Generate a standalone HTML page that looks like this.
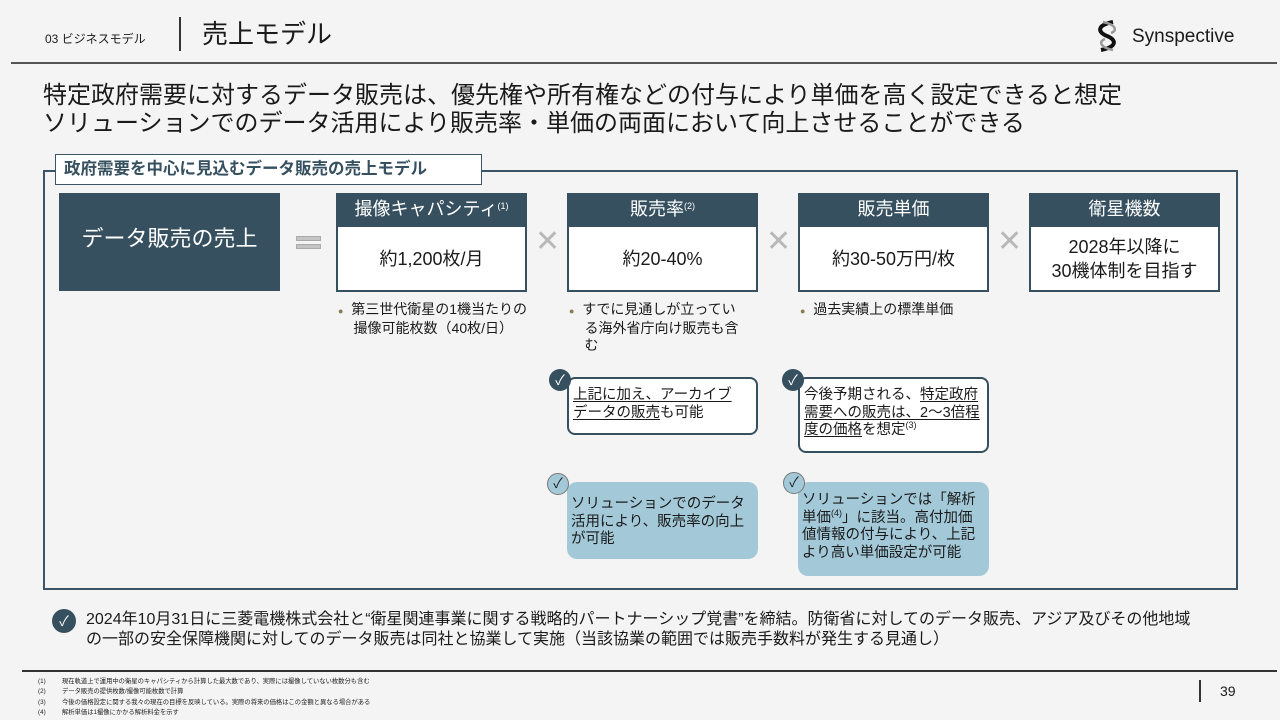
<!DOCTYPE html>
<html><head><meta charset="utf-8"><style>
*{margin:0;padding:0;box-sizing:border-box}
body{width:1280px;height:720px;background:#f4f4f4;position:relative;overflow:hidden;font-family:"Liberation Sans","Noto Sans CJK JP",sans-serif;color:#1a1a1a}
.a{position:absolute}
.hd{background:#36505f;color:#fff;text-align:center;font-size:18px;line-height:32px}
.bd{background:#fff;border:2px solid #36505f;border-top:none;text-align:center;font-size:18px;display:flex;align-items:center;justify-content:center;line-height:24px}
.x{font-size:30px;color:#b8b8b8;line-height:30px}
.bul{font-size:14px;line-height:17px}
.cw{background:#fff;border:2px solid #36505f;border-radius:8px;font-size:14.5px;line-height:17.5px;padding:8px 4px 0 4px;white-space:nowrap}
.cb{background:#a3c9d9;border-radius:10px;font-size:14.5px;line-height:17.5px;padding:14px 4px 0 4px;white-space:nowrap}
.ck{width:22px;height:22px;border-radius:50%;color:#fff;background:#36505f;font-size:14px;line-height:22px;text-align:center}
.ckl{background:#a3c9d9;border:1.5px solid #777;color:#222;line-height:19px}
u{text-decoration:underline;text-underline-offset:2px}
sup{font-size:9px;line-height:0;vertical-align:6px}
.fn{font-size:6.3px;line-height:10.3px;color:#222;white-space:nowrap}
</style></head><body>
<div class="a" style="left:45px;top:30px;font-size:12px">03 ビジネスモデル</div>
<div class="a" style="left:179px;top:17px;width:1.5px;height:34px;background:#333"></div>
<div class="a" style="left:202px;top:17px;font-size:26px;line-height:34px">売上モデル</div>
<svg class="a" style="left:1091px;top:19px" width="34" height="34" viewBox="0 0 34 34"><path d="M22 3 C6 6 6 13 16 17 C26 21 26 28 10 31" stroke="#111" stroke-width="4" fill="none"/><path d="M12 3 C26 6 26 12 20 14 M14 20 C8 22 8 28 22 31" stroke="#999" stroke-width="2.5" fill="none"/></svg>
<div class="a" style="left:1132px;top:24px;font-size:19px;line-height:26px">Synspective</div>
<div class="a" style="left:11px;top:62px;width:1266px;height:2px;background:#555"></div>
<div class="a" style="left:43px;top:82px;font-size:24px;line-height:28px">特定政府需要に対するデータ販売は、優先権や所有権などの付与により単価を高く設定できると想定<br>ソリューションでのデータ活用により販売率・単価の両面において向上させることができる</div>

<div class="a" style="left:43px;top:170px;width:1195px;height:420px;border:2px solid #3b5566"></div>
<div class="a" style="left:55px;top:154px;width:427px;height:31px;background:#fff;border:1.5px solid #3b5566;font-size:16.5px;font-weight:bold;color:#36505f;line-height:28px;padding-left:8px">政府需要を中心に見込むデータ販売の売上モデル</div>

<div class="a" style="left:59px;top:193px;width:221px;height:98px;background:#36505f;color:#fff;font-size:22px;text-align:center;line-height:92px">データ販売の売上</div>
<div class="a" style="left:296px;top:236px;width:25px;height:5px;background:#c4c4c4;border:1px solid #aaa"></div>
<div class="a" style="left:296px;top:244px;width:25px;height:5px;background:#c4c4c4;border:1px solid #aaa"></div>

<div class="a hd" style="left:336px;top:193px;width:191px;height:34px">撮像キャパシティ<sup>(1)</sup></div>
<div class="a bd" style="left:336px;top:227px;width:191px;height:65px">約1,200枚/月</div>
<div class="a hd" style="left:567px;top:193px;width:191px;height:34px">販売率<sup>(2)</sup></div>
<div class="a bd" style="left:567px;top:227px;width:191px;height:65px">約20-40%</div>
<div class="a hd" style="left:798px;top:193px;width:191px;height:34px">販売単価</div>
<div class="a bd" style="left:798px;top:227px;width:191px;height:65px">約30-50万円/枚</div>
<div class="a hd" style="left:1029px;top:193px;width:191px;height:34px">衛星機数</div>
<div class="a bd" style="left:1029px;top:227px;width:191px;height:65px">2028年以降に<br>30機体制を目指す</div>

<div class="a x" style="left:535px;top:227px">✕</div>
<div class="a x" style="left:766px;top:227px">✕</div>
<div class="a x" style="left:997px;top:227px">✕</div>

<div class="a bul" style="left:338px;top:301px"><span style="color:#8a7a55;font-size:9px">●</span>&nbsp; 第三世代衛星の1機当たりの<br>&nbsp;&nbsp;&nbsp;&nbsp;撮像可能枚数（40枚/日）</div>
<div class="a bul" style="left:569px;top:301px;width:190px"><span style="color:#8a7a55;font-size:9px">●</span>&nbsp; すでに見通しが立ってい<br>&nbsp;&nbsp;&nbsp;&nbsp;る海外省庁向け販売も含<br>&nbsp;&nbsp;&nbsp;&nbsp;む</div>
<div class="a bul" style="left:800px;top:301px"><span style="color:#8a7a55;font-size:9px">●</span>&nbsp; 過去実績上の標準単価</div>

<div class="a cw" style="left:567px;top:377px;width:191px;height:58px"><u>上記に加え、アーカイブ<br>データの販売</u>も可能</div>
<div class="a ck" style="left:549px;top:369px">✓</div>
<div class="a cw" style="left:798px;top:377px;width:191px;height:76px">今後予期される、<u>特定政府<br>需要への販売は、2～3倍程<br>度の価格</u>を想定<sup>(3)</sup></div>
<div class="a ck" style="left:782px;top:369px">✓</div>
<div class="a cb" style="left:567px;top:482px;width:191px;height:77px">ソリューションでのデータ<br>活用により、販売率の向上<br>が可能</div>
<div class="a ck ckl" style="left:547px;top:473px">✓</div>
<div class="a cb" style="left:798px;top:482px;width:191px;height:94px;padding-top:10px">ソリューションでは「解析<br>単価<sup>(4)</sup>」に該当。高付加価<br>値情報の付与により、上記<br>より高い単価設定が可能</div>
<div class="a ck ckl" style="left:783px;top:472px">✓</div>

<div class="a ck" style="left:52px;top:609px;width:24px;height:24px;line-height:24px">✓</div>
<div class="a" style="left:86px;top:610px;font-size:16px;line-height:20px;white-space:nowrap">2024年10月31日に三菱電機株式会社と“衛星関連事業に関する戦略的パートナーシップ覚書”を締結。防衛省に対してのデータ販売、アジア及びその他地域<br>の一部の安全保障機関に対してのデータ販売は同社と協業して実施（当該協業の範囲では販売手数料が発生する見通し）</div>

<div class="a" style="left:22px;top:670px;width:1255px;height:1.5px;background:#333"></div>
<div class="a fn" style="left:38px;top:677px">(1)<br>(2)<br>(3)<br>(4)</div>
<div class="a fn" style="left:62px;top:677px">現在軌道上で運用中の衛星のキャパシティから計算した最大数であり、実際には撮像していない枚数分も含む<br>データ販売の提供枚数/撮像可能枚数で計算<br>今後の価格設定に関する我々の現在の目標を反映している。実際の将来の価格はこの金額と異なる場合がある<br>解析単価は1撮像にかかる解析料金を示す</div>
<div class="a" style="left:1199px;top:680px;width:1.5px;height:22px;background:#333"></div>
<div class="a" style="left:1220px;top:683px;font-size:14px">39</div>
</body></html>
